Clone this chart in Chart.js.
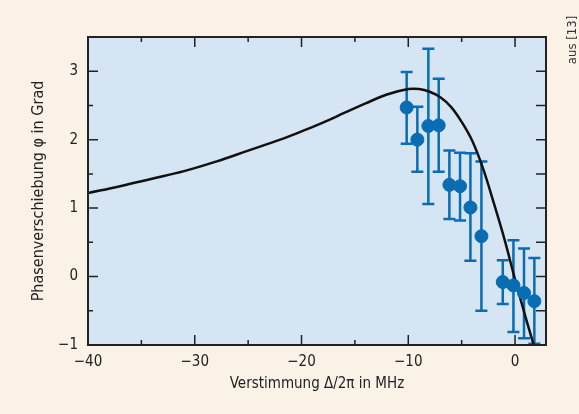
<!DOCTYPE html>
<html>
<head>
<meta charset="utf-8">
<script src="https://cdn.jsdelivr.net/npm/chart.js@4/dist/chart.umd.min.js"></script>
<style>
  html, body { margin: 0; padding: 0; background: #faf1e7; }
  canvas { display: block; }
</style>
</head>
<body>
<canvas id="phaseChart" width="579" height="414"></canvas>
<script>
// Messpunkte (Verstimmung in MHz, Phase in Grad, Fehlerbalken oben/unten)
const detuning = [-10.15, -9.15, -8.12, -7.15, -6.15, -5.15, -4.18, -3.15, -1.15, -0.15, 0.84, 1.81];
const phase    = [2.47, 2.00, 2.20, 2.21, 1.34, 1.32, 1.01, 0.59, -0.08, -0.13, -0.24, -0.36];
const errHigh  = [2.99, 2.48, 3.33, 2.89, 1.84, 1.81, 1.80, 1.68, 0.24, 0.53, 0.41, 0.27];
const errLow   = [1.94, 1.53, 1.06, 1.53, 0.84, 0.82, 0.23, -0.50, -0.40, -0.81, -0.90, -0.98];

// Theoriekurve
const curveX = [-40, -37, -34, -31, -28, -25, -22, -20, -18, -16, -14, -12, -10, -9, -8, -7, -6, -5, -4, -3, -2, -1, 0, 1, 1.75];
const curveY = [1.22, 1.32, 1.43, 1.54, 1.68, 1.84, 2.00, 2.12, 2.25, 2.39, 2.53, 2.66, 2.74, 2.74, 2.70, 2.62, 2.48, 2.26, 1.98, 1.58, 1.08, 0.55, -0.04, -0.60, -1.00];

const xMajorTicks = [-40, -30, -20, -10, 0];
const yMajorTicks = [-1, 0, 1, 2, 3];

const blue = "#0a6cb2";
const font = "'Liberation Sans Narrow', 'DejaVu Sans Condensed', 'Roboto', sans-serif";
const minus = s => String(s).replace("-", "\u2212");

const plotFrame = {
  id: "plotFrame",
  beforeDraw(chart) {
    const { ctx, chartArea: a } = chart;
    ctx.save();
    ctx.fillStyle = "#d5e5f4";
    ctx.fillRect(a.left, a.top, a.right - a.left, a.bottom - a.top);
    ctx.restore();
  },
  beforeDatasetsDraw(chart) {
    // Fehlerbalken
    const { ctx, scales: { x, y } } = chart;
    ctx.save();
    ctx.strokeStyle = blue;
    ctx.lineWidth = 2.5;
    detuning.forEach((d, i) => {
      const px = x.getPixelForValue(d);
      const top = y.getPixelForValue(errHigh[i]);
      const bot = y.getPixelForValue(errLow[i]);
      ctx.beginPath();
      ctx.moveTo(px, top); ctx.lineTo(px, bot);
      ctx.moveTo(px - 6, top); ctx.lineTo(px + 6, top);
      ctx.moveTo(px - 6, bot); ctx.lineTo(px + 6, bot);
      ctx.stroke();
    });
    ctx.restore();
  },
  afterDraw(chart) {
    const { ctx, chartArea: a, scales: { x, y } } = chart;
    ctx.save();
    ctx.strokeStyle = "#222";
    ctx.lineWidth = 1.5;
    // Ticks innen
    ctx.beginPath();
    for (let v = -40; v <= 0; v += 5) {
      const px = x.getPixelForValue(v);
      const len = xMajorTicks.includes(v) ? 10 : 5;
      ctx.moveTo(px, a.bottom); ctx.lineTo(px, a.bottom - len);
      ctx.moveTo(px, a.top); ctx.lineTo(px, a.top + len);
    }
    for (let v = -1; v <= 3.5; v += 0.5) {
      const py = y.getPixelForValue(v);
      const len = yMajorTicks.includes(v) ? 10 : 5;
      ctx.moveTo(a.left, py); ctx.lineTo(a.left + len, py);
      ctx.moveTo(a.right, py); ctx.lineTo(a.right - 10, py);
    }
    ctx.stroke();
    ctx.lineWidth = 2;
    ctx.strokeRect(a.left, a.top, a.right - a.left, a.bottom - a.top);
    // Quelle
    ctx.translate(573, 40);
    ctx.rotate(-Math.PI / 2);
    ctx.fillStyle = "#333";
    ctx.font = "13px " + font;
    ctx.textAlign = "center";
    ctx.textBaseline = "middle";
    ctx.fillText("aus [13]", 0, 0);
    ctx.restore();
  }
};

new Chart("phaseChart", {
  type: "scatter",
  data: {
    datasets: [{
      data: detuning.map((d, i) => ({ x: d, y: phase[i] })),
      backgroundColor: blue,
      borderColor: blue,
      pointRadius: 6.5,
      order: 0
    }, {
      type: "line",
      data: curveX.map((d, i) => ({ x: d, y: curveY[i] })),
      borderColor: "#111",
      borderWidth: 2.5,
      pointRadius: 0,
      tension: 0.4,
      fill: false,
      order: 1
    }]
  },
  options: {
    responsive: false,
    devicePixelRatio: 1,
    animation: false,
    layout: { padding: { left: 0, top: 37, right: 33, bottom: 0 } },
    plugins: { legend: { display: false }, tooltip: { enabled: false } },
    scales: {
      x: {
        type: "linear", min: -40, max: 2.9,
        grid: { display: false, drawTicks: false },
        border: { display: false },
        ticks: {
          stepSize: 5, includeBounds: false, padding: 8, color: "#222",
          font: { family: font, size: 15 },
          callback: v => (v % 10 === 0 ? minus(v) : "")
        },
        title: {
          display: true, text: "Verstimmung \u0394/2\u03c0 in MHz", color: "#222",
          font: { family: font, size: 15 }, padding: { top: 0, bottom: 21 }
        },
        afterFit(scale) { scale.height = 69; }
      },
      y: {
        min: -1, max: 3.5,
        grid: { display: false, drawTicks: false },
        border: { display: false },
        ticks: {
          stepSize: 0.5, padding: 10, color: "#222",
          font: { family: font, size: 15 },
          callback: v => (Number.isInteger(v) ? minus(v) : "")
        },
        title: {
          display: true, text: "Phasenverschiebung \u03c6 in Grad", color: "#222",
          font: { family: font, size: 16 }, padding: { top: 29, bottom: 0 }
        },
        afterFit(scale) { scale.width = 88; }
      }
    }
  },
  plugins: [plotFrame]
});
</script>
</body>
</html>
